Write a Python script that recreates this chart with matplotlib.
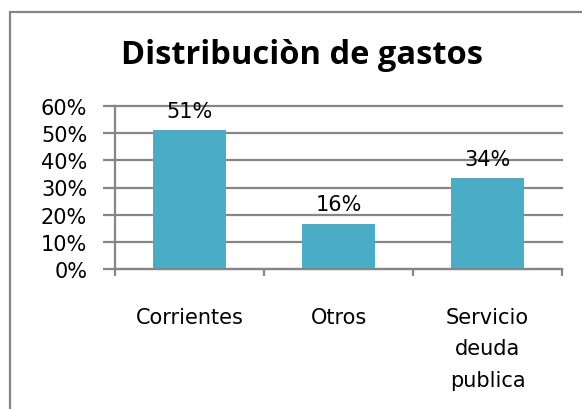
import matplotlib
matplotlib.use("Agg")
import matplotlib.pyplot as plt
from matplotlib.patches import Rectangle
from matplotlib.ticker import FixedLocator

categories = ["Corrientes", "Otros", "Servicio\ndeuda\npublica"]
values = [0.51, 0.165, 0.334]
value_labels = ["51%", "16%", "34%"]
yticks = [0.0, 0.1, 0.2, 0.3, 0.4, 0.5, 0.6]
ytick_labels = ["0%", "10%", "20%", "30%", "40%", "50%", "60%"]
title = "Distribuciòn de gastos"

W, H = 582, 410
plt.rcParams['font.family'] = ['DejaVu Sans']
fig = plt.figure(figsize=(W / 100, H / 100), dpi=100)
fig.patch.set_facecolor("white")

grid_c = "#868686"
bar_c = "#4BACC6"
fs = 15

# outer chart border (extends past right/bottom edges)
fig.add_artist(Rectangle((10 / W, -0.05), 1.0, 1 - 13 / H + 0.05,
                         transform=fig.transFigure, fill=False,
                         edgecolor=grid_c, linewidth=1.6))

ax = fig.add_axes([115 / W, 1 - 270 / H, (562 - 115) / W, (270 - 107) / H])
x = list(range(len(categories)))
ax.bar(x, values, width=0.49, color=bar_c, zorder=3)
ax.set_xlim(-0.5, len(categories) - 0.5)
ax.set_ylim(0, 0.6)

for s in ["top", "right"]:
    ax.spines[s].set_visible(False)
for s in ["left", "bottom"]:
    ax.spines[s].set_color(grid_c)
    ax.spines[s].set_linewidth(1.6)
    ax.spines[s].set_zorder(4)

ax.set_yticks(yticks)
ax.set_yticklabels(ytick_labels, fontsize=fs)
ax.yaxis.grid(True, color=grid_c, linewidth=1.6, zorder=0)
ax.set_axisbelow(True)
ax.tick_params(axis="y", length=9, width=1.6, color=grid_c, pad=11, labelcolor="black")
for gl in ax.get_ygridlines():
    gl.set_clip_on(False)

ax.set_xticks(x)
ax.set_xticklabels(categories, fontsize=fs, linespacing=1.74, va="top")
ax.xaxis.set_minor_locator(FixedLocator([i - 0.5 for i in range(len(categories) + 1)]))
ax.tick_params(axis="x", which="major", length=0, pad=27)
ax.tick_params(axis="x", which="minor", length=5, width=1.6, color=grid_c)

for xi, v, lab in zip(x, values, value_labels):
    ax.annotate(lab, (xi, v), xytext=(0, 7), textcoords="offset points",
                ha="center", va="bottom", fontsize=fs)

fig.text(302 / W, 1 - 56 / H, title, ha="center", va="center",
         fontsize=23.5, fontweight="bold", family=["Open Sans", "DejaVu Sans"])

fig.savefig("out.png", dpi=100)
